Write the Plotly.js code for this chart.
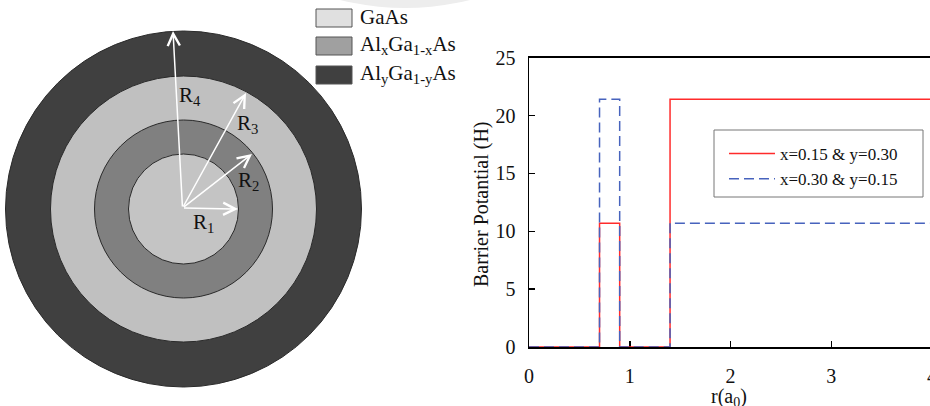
<!DOCTYPE html>
<html>
<head>
<meta charset="utf-8">
<script src="https://cdn.plot.ly/plotly-3.0.1.min.js"></script>
<style>
html,body{margin:0;padding:0;overflow:hidden;background:#fff;}
#chart{width:934px;height:406px;}
</style>
</head>
<body>
<div id="chart"></div>
<script>
// ---- chart data ----
var breakR = [0, 0.7, 0.9, 1.4, 4];           // r (a0) where the potential changes
var seriesA = [0, 10.7, 0, 21.4, 21.4];        // x=0.15 & y=0.30
var seriesB = [0, 21.4, 0, 10.7, 10.7];        // x=0.30 & y=0.15
var seriesNames = ['x=0.15 & y=0.30', 'x=0.30 & y=0.15'];
var xTicks = [0, 1, 2, 3, 4];
var yTicks = [0, 5, 10, 15, 20, 25];
var xTitle = 'r(a<sub>0</sub>)';
var yTitle = 'Barrier Potantial (H)';

// ---- schematic labels ----
var layerNames = ['GaAs', 'Al<sub>x</sub>Ga<sub>1-x</sub>As', 'Al<sub>y</sub>Ga<sub>1-y</sub>As'];
var radiusLabels = ['R<sub>1</sub>', 'R<sub>2</sub>', 'R<sub>3</sub>', 'R<sub>4</sub>'];

var W = 934, H = 406;
function px(x){ return x / W; }
function py(y){ return 1 - y / H; }
var FONT = 'Liberation Serif';

var traces = [
  {x: breakR, y: seriesA, name: seriesNames[0], mode: 'lines', cliponaxis:false, line: {shape: 'hv', color: '#ff2b2b', width: 1.5}},
  {x: breakR, y: seriesB, name: seriesNames[1], mode: 'lines', cliponaxis:false, line: {shape: 'hv', color: '#4763bd', width: 1.5, dash: '10px,5px'}}
];

var shapes = [];
var annotations = [];

// faint arc at top
shapes.push({type:'circle', xref:'paper', yref:'paper', x0:px(137), x1:px(673), y0:py(-528), y1:py(8), fillcolor:'#ededed', line:{width:0}, layer:'below'});

// concentric circles: center & radii in pixels
var cx = 183.5, cy = 209;
var rings = [
  {r:178, c:'#404040'},
  {r:133, c:'#c0c0c0'},
  {r:89,  c:'#808080'},
  {r:55,  c:'#c4c4c4'}
];
rings.forEach(function(g){
  shapes.push({type:'circle', xref:'paper', yref:'paper',
    x0:px(cx-g.r), x1:px(cx+g.r), y0:py(cy+g.r), y1:py(cy-g.r),
    fillcolor:g.c, line:{color:'#2a2a2a', width:1}});
});

// arrows (tips), tail at center
var tips = [[238,209],[252,154],[246,93],[173,31]];
tips.forEach(function(t){
  annotations.push({xref:'paper', yref:'paper', x:px(t[0]), y:py(t[1]),
    ax: cx-1 - t[0], ay: cy-1 - t[1], showarrow:true, arrowhead:5, arrowsize:1.6, arrowwidth:1.5,
    arrowcolor:'#ffffff', text:''});
});
var labPos = [[203,223],[248,181],[247,124],[190,96]];
labPos.forEach(function(p,i){
  annotations.push({xref:'paper', yref:'paper', x:px(p[0]), y:py(p[1]), xanchor:'center', yanchor:'middle',
    text: radiusLabels[i], showarrow:false, font:{family:FONT, size:21, color:'#111'}});
});

// schematic legend
var boxFill = ['#e0e0e0', '#a0a0a0', '#404040'];
var boxY = [[9,27],[37,55],[66,84]];
layerNames.forEach(function(n,i){
  shapes.push({type:'rect', xref:'paper', yref:'paper', x0:px(316), x1:px(352), y0:py(boxY[i][1]), y1:py(boxY[i][0]),
    fillcolor:boxFill[i], line:{color:'#555', width:1}});
  annotations.push({xref:'paper', yref:'paper', x:px(358), y:py((boxY[i][0]+boxY[i][1])/2 - 1), xanchor:'left', yanchor:'middle',
    text:n, showarrow:false, font:{family:FONT, size:21, color:'#111'}});
});

// chart legend frame
shapes.push({type:'rect', xref:'paper', yref:'paper', x0:px(714), x1:px(923), y0:py(197), y1:py(130),
  fillcolor:'#ffffff', line:{color:'#777', width:1}, layer:'below'});

// axis titles
annotations.push({xref:'paper', yref:'paper', x:px(729), y:py(397), xanchor:'center', yanchor:'middle',
  text:xTitle, showarrow:false, font:{family:FONT, size:20, color:'#111'}});
annotations.push({xref:'paper', yref:'paper', x:px(481), y:py(204), xanchor:'center', yanchor:'middle', textangle:-90,
  text:yTitle, showarrow:false, font:{family:FONT, size:20, color:'#111'}});

var y0px = 347, y25px = 57.7;
var layout = {
  width: W, height: H, autosize:false,
  margin:{l:0, r:0, t:0, b:0, pad:0},
  paper_bgcolor:'#fff', plot_bgcolor:'rgba(0,0,0,0)',
  font:{family:FONT, color:'#111'},
  showlegend:true,
  legend:{x:px(724), y:py(136), xanchor:'left', yanchor:'top', bgcolor:'rgba(0,0,0,0)', borderwidth:0,
    font:{family:FONT, size:17, color:'#111'}, itemwidth:46, tracegroupgap:0},
  xaxis:{domain:[px(529), px(932)], range:[0,4], tickvals:xTicks, ticks:'inside', ticklen:6, tickwidth:1.5, tickcolor:'#000',
    showline:true, linecolor:'#000', linewidth:1.5, mirror:true, showgrid:false, zeroline:false, ticklabeloverflow:'allow',
    tickfont:{family:FONT, size:20, color:'#111'}, ticklabelstandoff:10, layer:'below traces', fixedrange:true},
  yaxis:{domain:[(H - y0px)/H, (H - y25px)/H], range:[0,25], tickvals:yTicks, ticks:'inside', ticklen:6, tickwidth:1.5, tickcolor:'#000',
    showline:true, linecolor:'#000', linewidth:1.5, mirror:true, showgrid:false, zeroline:false,
    tickfont:{family:FONT, size:20, color:'#111'}, ticklabelstandoff:8, layer:'below traces', fixedrange:true},
  shapes: shapes,
  annotations: annotations
};

Plotly.newPlot('chart', traces, layout, {displayModeBar:false, staticPlot:true});
</script>
</body>
</html>
